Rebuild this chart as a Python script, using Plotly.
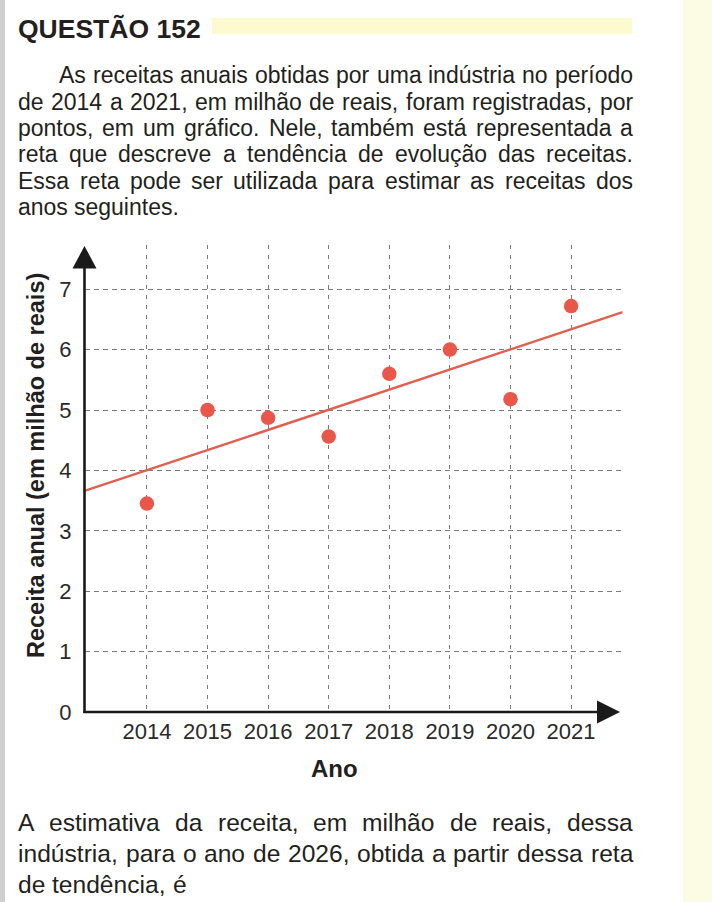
import plotly.graph_objects as go

W, H = 712, 902

# ---- data ----
anos = [2014, 2015, 2016, 2017, 2018, 2019, 2020, 2021]
receitas = [3.45, 5.0, 4.87, 4.56, 5.6, 6.0, 5.18, 6.72]
trend_x = [2012.97, 2021.85]
trend_y = [3.66, 6.62]
y_ticks = [0, 1, 2, 3, 4, 5, 6, 7]
x_ticklabels = [str(a) for a in anos]

header = "QUESTÃO 152"
intro_lines = [
    "As receitas anuais obtidas por uma indústria no período",
    "de 2014 a 2021, em milhão de reais, foram registradas, por",
    "pontos, em um gráfico. Nele, também está representada a",
    "reta que descreve a tendência de evolução das receitas.",
    "Essa reta pode ser utilizada para estimar as receitas dos",
    "anos seguintes.",
]
question_lines = [
    "A estimativa da receita, em milhão de reais, dessa",
    "indústria, para o ano de 2026, obtida a partir dessa reta",
    "de tendência, é",
]
x_title = "Ano"
y_title = "Receita anual (em milhão de reais)"


def px(x):
    return x / W


def py(y):
    return 1 - y / H


# Arial / Liberation Sans advance widths (1/1000 em), used to justify text lines
_AW = {c: 556 for c in "abdeghnopqu0123456789áéêãúóõâ"}
_AW.update({c: 500 for c in "cksvxyzç"})
_AW.update({"f": 278, "t": 278, "i": 222, "j": 222, "l": 222, "m": 833, "r": 333,
            "w": 722, "í": 278, "A": 667, "E": 667, "N": 722, ",": 278, ".": 278, " ": 278})


def text_w(s, size):
    return sum(_AW.get(c, 556) for c in s) * size / 1000.0


RED = "#E8574A"
INK = "#231F20"
FONT = "Liberation Sans, Arial, sans-serif"

fig = go.Figure()
fig.add_trace(go.Scatter(x=trend_x, y=trend_y, mode="lines",
                         line=dict(color="#E0604F", width=2.4),
                         hoverinfo="skip", showlegend=False, cliponaxis=False))
fig.add_trace(go.Scatter(x=anos, y=receitas, mode="markers",
                         marker=dict(color=RED, size=14.5, line=dict(width=0)),
                         showlegend=False, cliponaxis=False))

x0p, x1p = 84.5, 622.6
ytop, ybot = 245, 712
fig.update_layout(
    width=W, height=H, autosize=False,
    margin=dict(l=0, r=0, t=0, b=0, pad=0),
    paper_bgcolor="white", plot_bgcolor="white",
    font=dict(family=FONT, color=INK),
    xaxis=dict(range=[2012.97, 2021.85], domain=[px(x0p), px(x1p)],
               tickvals=anos, ticktext=x_ticklabels, ticks="",
               ticklabelstandoff=4,
               tickfont=dict(size=22, color="#2a2a2a", family=FONT),
               showgrid=True, gridcolor="#7a7a7a", gridwidth=1, griddash="4px,6px",
               zeroline=False, showline=False, fixedrange=True, automargin=False),
    yaxis=dict(range=[0, (712 - 245) / 60.4], domain=[py(ybot), py(ytop)],
               tickvals=y_ticks, ticks="", ticklabelstandoff=12,
               tickfont=dict(size=22, color="#2a2a2a", family=FONT),
               showgrid=True, gridcolor="#7a7a7a", gridwidth=1, griddash="5px,4px",
               zeroline=False, showline=False, fixedrange=True, automargin=False),
)

shapes = []
shapes.append(dict(type="rect", xref="paper", yref="paper", x0=0, x1=px(5), y0=0, y1=1,
                   fillcolor="#cfcfcf", line=dict(width=0), layer="below"))
shapes.append(dict(type="rect", xref="paper", yref="paper", x0=px(683), x1=1, y0=0, y1=1,
                   fillcolor="#FCFBE4", line=dict(width=0), layer="below"))
shapes.append(dict(type="rect", xref="paper", yref="paper", x0=px(212), x1=px(632),
                   y0=py(34), y1=py(18), fillcolor="#FEFAD0", line=dict(width=0), layer="below"))
shapes.append(dict(type="line", xref="paper", yref="paper", x0=px(x0p), x1=px(x0p),
                   y0=py(713), y1=py(266), line=dict(color="#1a1a1a", width=2.6)))
shapes.append(dict(type="line", xref="paper", yref="paper", x0=px(x0p - 1.2), x1=px(600),
                   y0=py(712), y1=py(712), line=dict(color="#1a1a1a", width=2.6)))
shapes.append(dict(type="path", xref="paper", yref="paper",
                   path=f"M {px(72.5)} {py(268.5)} L {px(96.5)} {py(268.5)} L {px(84.5)} {py(246)} Z",
                   fillcolor="#1a1a1a", line=dict(width=0)))
shapes.append(dict(type="path", xref="paper", yref="paper",
                   path=f"M {px(597)} {py(700.5)} L {px(597)} {py(723.5)} L {px(620)} {py(712)} Z",
                   fillcolor="#1a1a1a", line=dict(width=0)))
fig.update_layout(shapes=shapes)

ann = []


def add_line(text, x_left, x_right, y, size, justify):
    words = text.split(" ")
    widths = [text_w(w, size) for w in words]
    if justify and len(words) > 1:
        gap = (x_right - x_left - sum(widths)) / (len(words) - 1)
    else:
        gap = text_w(" ", size)
    x = x_left
    for w, wd in zip(words, widths):
        ann.append(dict(text=w, x=px(x), y=py(y), xref="paper", yref="paper",
                        xanchor="left", yanchor="middle", showarrow=False, borderpad=0,
                        font=dict(size=size, family=FONT, color=INK)))
        x += wd + gap


ann.append(dict(text=f"<b>{header}</b>", x=px(17), y=py(29), xref="paper", yref="paper",
                xanchor="left", yanchor="middle", showarrow=False, borderpad=0,
                font=dict(size=26.5, family=FONT, color=INK)))
intro_y = [75, 101.5, 128, 154.5, 181, 207.5]
for i, (t, yy) in enumerate(zip(intro_lines, intro_y)):
    add_line(t, 58 if i == 0 else 17, 632, yy, 23, i < len(intro_lines) - 1)
q_y = [822, 853, 884]
for i, (t, yy) in enumerate(zip(question_lines, q_y)):
    add_line(t, 17, 632, yy, 24.6, i < len(question_lines) - 1)
ann.append(dict(text=f"<b>{x_title}</b>", x=px(334), y=py(768), xref="paper", yref="paper",
                xanchor="center", yanchor="middle", showarrow=False,
                font=dict(size=24, family=FONT, color=INK)))
ann.append(dict(text=f"<b>{y_title}</b>", x=px(36), y=py(466), xref="paper", yref="paper",
                xanchor="center", yanchor="middle", showarrow=False, textangle=-90,
                font=dict(size=23.5, family=FONT, color=INK)))
fig.update_layout(annotations=ann)

fig.write_html("out.html", config={"responsive": False})
